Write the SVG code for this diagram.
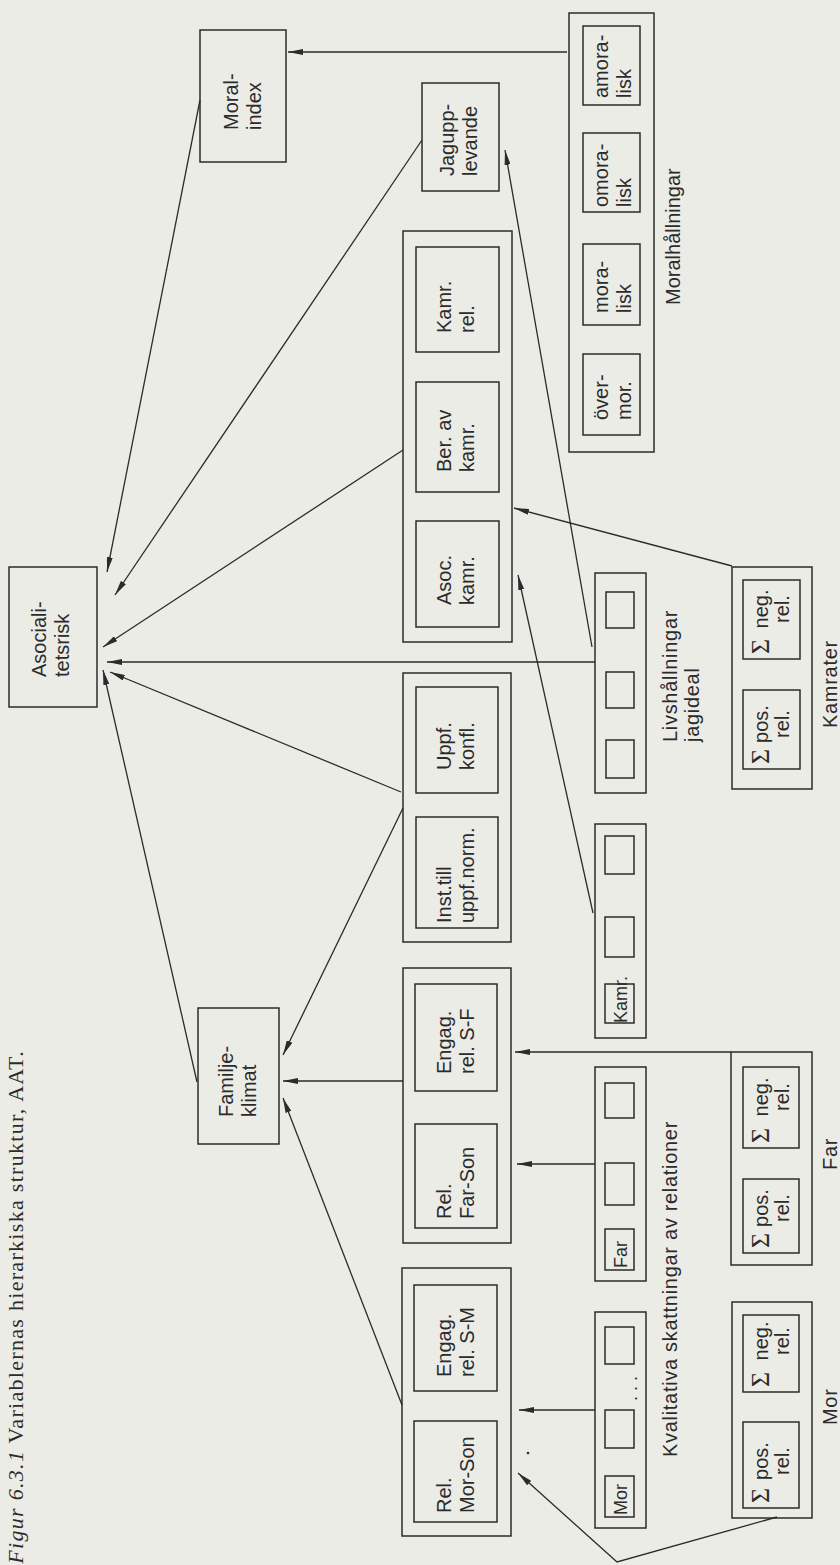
<svg xmlns="http://www.w3.org/2000/svg" width="840" height="1565" viewBox="0 0 840 1565">
<defs>
<marker id="ah" markerUnits="userSpaceOnUse" markerWidth="15" markerHeight="6" refX="15" refY="3" orient="auto">
<path d="M0,0 L15,3 L0,6 z" fill="#2b2b2b"/>
</marker>
<style>
.bx{fill:none;stroke:#2b2b2b;stroke-width:1.5}
.c{fill:none;stroke:#2b2b2b;stroke-width:1.3}
.a{marker-end:url(#ah)}
.t{font-family:"Liberation Sans",Arial,sans-serif;font-size:20px;fill:#2b2b2b}
.l{letter-spacing:0.7px}
.s{font-family:"Liberation Serif","Times New Roman",serif;font-size:26px;fill:#2b2b2b}
.cap{font-family:"Liberation Serif","Times New Roman",serif;font-size:22px;letter-spacing:1.3px;fill:#2b2b2b}
</style>
</defs>
<rect x="0" y="0" width="840" height="1565" fill="#ecece7"/>

<text class="cap" transform="translate(23,1050) rotate(-90)" text-anchor="end"><tspan font-style="italic">Figur 6.3.1</tspan> Variablernas hierarkiska struktur, AAT.</text>

<g id="connectors">
<line class="c a" x1="567" y1="52" x2="288" y2="52"/>
<line class="c a" x1="200" y1="100" x2="107" y2="572"/>
<line class="c a" x1="422" y1="140" x2="115" y2="595"/>
<line class="c a" x1="403" y1="450" x2="103" y2="647"/>
<line class="c a" x1="595" y1="662" x2="107" y2="662"/>
<line class="c a" x1="401" y1="792" x2="110" y2="672"/>
<line class="c a" x1="197" y1="1082" x2="103" y2="670"/>
<line class="c a" x1="403" y1="808" x2="283" y2="1055"/>
<line class="c a" x1="403" y1="1081" x2="283" y2="1081"/>
<line class="c a" x1="402" y1="1405" x2="283" y2="1098"/>
<line class="c a" x1="592" y1="647" x2="505" y2="150"/>
<line class="c a" x1="732" y1="566" x2="514" y2="508"/>
<line class="c a" x1="593" y1="913" x2="518" y2="575"/>
<line class="c a" x1="731" y1="1052" x2="515" y2="1052"/>
<line class="c a" x1="595" y1="1164" x2="517" y2="1164"/>
<line class="c a" x1="595" y1="1410" x2="519" y2="1410"/>
<polyline class="c a" points="777,1517 617,1562 518,1473"/>
<circle cx="528" cy="1453" r="1.3" fill="#2b2b2b"/>
</g>

<g id="asocialitetsrisk">
<rect class="bx" x="9" y="567" width="88" height="140"/>
<text class="t" transform="translate(0,677) rotate(-90)"><tspan x="0" y="46">Asociali-</tspan><tspan x="0" y="69">tetsrisk</tspan></text>
</g>

<g id="moral-index">
<rect class="bx" x="200" y="30" width="86" height="132"/>
<text class="t" transform="translate(0,130) rotate(-90)"><tspan x="0" y="238">Moral-</tspan><tspan x="0" y="261">index</tspan></text>
</g>

<g id="familjeklimat">
<rect class="bx" x="198" y="1008" width="81" height="136"/>
<text class="t" transform="translate(0,1117) rotate(-90)"><tspan x="0" y="233">Familje-</tspan><tspan x="0" y="256">klimat</tspan></text>
</g>

<g id="jagupplevande">
<rect class="bx" x="422" y="83" width="77" height="108"/>
<text class="t" transform="translate(0,176) rotate(-90)"><tspan x="0" y="454">Jagupp-</tspan><tspan x="0" y="477">levande</tspan></text>
</g>

<g id="kamrat-index">
<rect class="bx" x="403" y="231" width="109" height="411"/>
<rect class="bx" x="416" y="247" width="83" height="105"/>
<text class="t" transform="translate(0,333) rotate(-90)"><tspan x="0" y="451">Kamr.</tspan><tspan x="0" y="474">rel.</tspan></text>
<rect class="bx" x="416" y="382" width="83" height="110"/>
<text class="t" transform="translate(0,472) rotate(-90)"><tspan x="0" y="451">Ber. av</tspan><tspan x="0" y="474">kamr.</tspan></text>
<rect class="bx" x="416" y="521" width="83" height="106"/>
<text class="t" transform="translate(0,605) rotate(-90)"><tspan x="0" y="451">Asoc.</tspan><tspan x="0" y="474">kamr.</tspan></text>
</g>

<g id="uppfostran">
<rect class="bx" x="403" y="673" width="108" height="269"/>
<rect class="bx" x="416" y="687" width="82" height="106"/>
<text class="t" transform="translate(0,770) rotate(-90)"><tspan x="0" y="451">Uppf.</tspan><tspan x="0" y="474">konfl.</tspan></text>
<rect class="bx" x="416" y="817" width="82" height="111"/>
<text class="t" transform="translate(0,923) rotate(-90)"><tspan x="0" y="451">Inst.till</tspan><tspan x="0" y="474">uppf.norm.</tspan></text>
</g>

<g id="far-son">
<rect class="bx" x="403" y="968" width="108" height="275"/>
<rect class="bx" x="415" y="984" width="82" height="107"/>
<text class="t" transform="translate(0,1074) rotate(-90)"><tspan x="0" y="451">Engag.</tspan><tspan x="0" y="474">rel. S-F</tspan></text>
<rect class="bx" x="415" y="1124" width="82" height="104"/>
<text class="t" transform="translate(0,1219) rotate(-90)"><tspan x="0" y="451">Rel.</tspan><tspan x="0" y="474">Far-Son</tspan></text>
</g>

<g id="mor-son">
<rect class="bx" x="402" y="1268" width="109" height="268"/>
<rect class="bx" x="414" y="1285" width="83" height="106"/>
<text class="t" transform="translate(0,1377) rotate(-90)"><tspan x="0" y="451">Engag.</tspan><tspan x="0" y="474">rel. S-M</tspan></text>
<rect class="bx" x="414" y="1421" width="83" height="101"/>
<text class="t" transform="translate(0,1513) rotate(-90)"><tspan x="0" y="451">Rel.</tspan><tspan x="0" y="474">Mor-Son</tspan></text>
</g>

<g id="moralhallningar">
<rect class="bx" x="569" y="13" width="85" height="439"/>
<rect class="bx" x="583" y="26" width="57" height="79"/>
<text class="t" transform="translate(0,98) rotate(-90)"><tspan x="0" y="608">amora-</tspan><tspan x="0" y="631">lisk</tspan></text>
<rect class="bx" x="583" y="133" width="57" height="79"/>
<text class="t" transform="translate(0,207) rotate(-90)"><tspan x="0" y="608">omora-</tspan><tspan x="0" y="631">lisk</tspan></text>
<rect class="bx" x="583" y="244" width="57" height="81"/>
<text class="t" transform="translate(0,313) rotate(-90)"><tspan x="0" y="608">mora-</tspan><tspan x="0" y="631">lisk</tspan></text>
<rect class="bx" x="583" y="354" width="57" height="81"/>
<text class="t" transform="translate(0,420) rotate(-90)"><tspan x="0" y="608">över-</tspan><tspan x="0" y="631">mor.</tspan></text>
<text class="t" transform="translate(680,305) rotate(-90)">Moralhållningar</text>
</g>

<g id="livshallningar">
<rect class="bx" x="595" y="573" width="51" height="220"/>
<rect class="bx" x="606" y="592" width="28" height="36"/>
<rect class="bx" x="606" y="672" width="28" height="36"/>
<rect class="bx" x="606" y="740" width="28" height="38"/>
<text class="t l" transform="translate(0,742) rotate(-90)"><tspan x="0" y="677">Livshållningar</tspan><tspan x="0" y="699">jagideal</tspan></text>
</g>

<g id="kamr-skattningar">
<rect class="bx" x="595" y="824" width="51" height="214"/>
<rect class="bx" x="605" y="836" width="29" height="38"/>
<rect class="bx" x="605" y="917" width="29" height="40"/>
<rect class="bx" x="605" y="984" width="29" height="39"/>
<text class="t" transform="translate(627,1023) rotate(-90)" style="font-size:18px">Kamr.</text>
</g>

<g id="far-skattningar">
<rect class="bx" x="595" y="1067" width="51" height="214"/>
<rect class="bx" x="605" y="1083" width="29" height="35"/>
<rect class="bx" x="605" y="1163" width="29" height="42"/>
<rect class="bx" x="605" y="1229" width="29" height="41"/>
<text class="t" transform="translate(627,1268) rotate(-90)" style="font-size:18px">Far</text>
</g>

<g id="mor-skattningar">
<rect class="bx" x="595" y="1312" width="51" height="216"/>
<rect class="bx" x="605" y="1327" width="29" height="37"/>
<rect class="bx" x="605" y="1410" width="29" height="38"/>
<rect class="bx" x="605" y="1476" width="29" height="41"/>
<text class="t" transform="translate(627,1515) rotate(-90)" style="font-size:18px">Mor</text>
<text class="t" transform="translate(637,1401) rotate(-90)" style="font-size:18px">. . .</text>
<text class="t l" transform="translate(677,1457) rotate(-90)">Kvalitativa skattningar av relationer</text>
</g>

<g id="kamrater">
<rect class="bx" x="732" y="567" width="80" height="222"/>
<rect class="bx" x="743" y="580" width="57" height="79"/>
<text class="s" transform="translate(769,654) rotate(-90)">Σ</text>
<text class="t" text-anchor="middle" transform="translate(0,609) rotate(-90)"><tspan x="0" y="768">neg.</tspan><tspan x="0" y="789">rel.</tspan></text>
<rect class="bx" x="743" y="690" width="57" height="79"/>
<text class="s" transform="translate(769,764) rotate(-90)">Σ</text>
<text class="t" text-anchor="middle" transform="translate(0,724) rotate(-90)"><tspan x="0" y="768">pos.</tspan><tspan x="0" y="789">rel.</tspan></text>
<text class="t l" transform="translate(837,728) rotate(-90)">Kamrater</text>
</g>

<g id="far">
<rect class="bx" x="731" y="1052" width="81" height="213"/>
<rect class="bx" x="743" y="1067" width="56" height="81"/>
<text class="s" transform="translate(769,1143) rotate(-90)">Σ</text>
<text class="t" text-anchor="middle" transform="translate(0,1097) rotate(-90)"><tspan x="0" y="768">neg.</tspan><tspan x="0" y="789">rel.</tspan></text>
<rect class="bx" x="743" y="1179" width="56" height="74"/>
<text class="s" transform="translate(769,1248) rotate(-90)">Σ</text>
<text class="t" text-anchor="middle" transform="translate(0,1208) rotate(-90)"><tspan x="0" y="768">pos.</tspan><tspan x="0" y="789">rel.</tspan></text>
<text class="t l" transform="translate(837,1170) rotate(-90)">Far</text>
</g>

<g id="mor">
<rect class="bx" x="732" y="1302" width="80" height="216"/>
<rect class="bx" x="743" y="1315" width="56" height="77"/>
<text class="s" transform="translate(769,1387) rotate(-90)">Σ</text>
<text class="t" text-anchor="middle" transform="translate(0,1341) rotate(-90)"><tspan x="0" y="768">neg.</tspan><tspan x="0" y="789">rel.</tspan></text>
<rect class="bx" x="743" y="1422" width="56" height="86"/>
<text class="s" transform="translate(769,1503) rotate(-90)">Σ</text>
<text class="t" text-anchor="middle" transform="translate(0,1461) rotate(-90)"><tspan x="0" y="768">pos.</tspan><tspan x="0" y="789">rel.</tspan></text>
<text class="t l" transform="translate(837,1425) rotate(-90)">Mor</text>
</g>
</svg>
